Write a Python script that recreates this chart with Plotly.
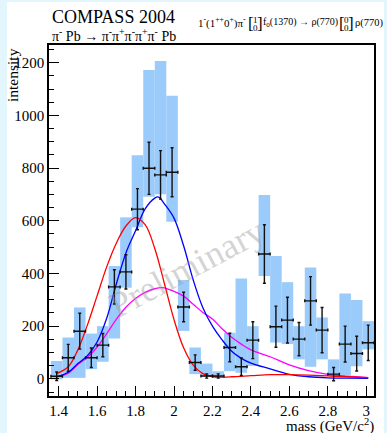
import plotly.graph_objects as go

# Bin centres of the 5-pion mass spectrum (GeV/c^2), bin width 60 MeV
mass = [1.39, 1.45, 1.51, 1.57, 1.63, 1.69, 1.75, 1.81, 1.87, 1.93,
        1.99, 2.05, 2.11, 2.17, 2.23, 2.29, 2.35, 2.41, 2.47, 2.53,
        2.59, 2.65, 2.71, 2.77, 2.83, 2.89, 2.95, 3.01]
bin_width = 0.06

# Partial-wave intensity with statistical errors
intensity = [10, 80, 181, 80, 128, 349, 406, 644, 799, 774,
             784, 273, 62, 11, 11, 119, 46, 147, 474, 198,
             223, 151, 296, 185, 18, 132, 96, 137]
stat_err = [16, 51, 68, 37, 44, 65, 65, 78, 99, 92,
            93, 56, 29, 8, 8, 54, 33, 70, 111, 78,
            87, 63, 92, 86, 25, 68, 66, 67]

# Systematic band (lower / upper edge per bin)
sys_low = [-2, 4, 4, 37, 65, 153, 346, 575, 691, 701,
           596, 182, 18, 8, 3, 29, 23, 49, 390, 138,
           132, 74, 46, 74, 13, 14, 48, 112]
sys_high = [68, 157, 271, 172, 200, 428, 613, 849, 1172, 1206,
            1074, 375, 119, 58, 29, 175, 381, 200, 698, 466,
            367, 200, 423, 233, 74, 324, 299, 219]

# Fit components sampled along the mass axis
red_m = [1.39, 1.45, 1.50, 1.55, 1.60, 1.65, 1.70, 1.75, 1.80, 1.85,
         1.90, 1.95, 2.00, 2.05, 2.10, 2.15, 2.20, 2.25, 2.30, 2.40,
         2.50, 2.60, 2.70, 2.80, 2.90, 3.01]
red_i = [20, 46, 110, 205, 315, 425, 515, 580, 612, 585,
         495, 362, 225, 118, 52, 20, 9, 7, 8, 12,
         16, 16, 14, 11, 8, 5]

blue_m = [1.39, 1.45, 1.50, 1.55, 1.60, 1.65, 1.70, 1.75, 1.80, 1.85,
          1.90, 1.92, 1.95, 2.00, 2.05, 2.10, 2.15, 2.20, 2.25, 2.30,
          2.35, 2.40, 2.50, 2.60, 2.70, 2.80, 2.90, 3.01]
blue_i = [8, 25, 58, 88, 140, 230, 360, 478, 562, 645,
          686, 690, 664, 610, 505, 375, 270, 200, 148, 105,
          78, 60, 38, 17, 8, 4, 3, 2]

mag_m = [1.39, 1.45, 1.50, 1.55, 1.60, 1.65, 1.70, 1.75, 1.80, 1.85,
         1.90, 1.94, 2.00, 2.05, 2.10, 2.15, 2.20, 2.25, 2.30, 2.35,
         2.40, 2.50, 2.60, 2.70, 2.80, 2.90, 3.01]
mag_i = [8, 22, 55, 82, 120, 172, 226, 272, 305, 328,
         342, 346, 332, 314, 283, 252, 227, 190, 158, 132,
         110, 84, 53, 31, 17, 10, 5]

x_range = [1.35, 3.04]
y_range = [-65, 1267]
y_ticks = [0, 200, 400, 600, 800, 1000, 1200]
x_ticks = [1.4, 1.6, 1.8, 2.0, 2.2, 2.4, 2.6, 2.8, 3.0]
x_tick_text = ["1.4", "1.6", "1.8", "2", "2.2", "2.4", "2.6", "2.8", "3"]

SERIF = "Liberation Serif, Times New Roman, serif"

fig = go.Figure()

# systematic boxes
fig.add_trace(go.Bar(
    x=mass,
    y=[h - l for h, l in zip(sys_high, sys_low)],
    base=sys_low,
    width=bin_width,
    marker=dict(color="#9acbfb", line=dict(width=0)),
    hoverinfo="skip",
    showlegend=False,
))

# fit components
for xs, ys, col in [(mag_m, mag_i, "#ff00ff"),
                    (blue_m, blue_i, "#0000ff"),
                    (red_m, red_i, "#ff0000")]:
    fig.add_trace(go.Scatter(
        x=xs, y=ys, mode="lines",
        line=dict(color=col, width=1.3, shape="spline", smoothing=1.0),
        showlegend=False, hoverinfo="skip",
    ))

# data points with statistical errors
fig.add_trace(go.Scatter(
    x=mass, y=intensity, mode="markers",
    marker=dict(size=1, color="black"),
    error_y=dict(type="data", array=stat_err, color="#111111",
                 thickness=1.4, width=1.5),
    error_x=dict(type="constant", value=bin_width / 2, color="#111111",
                 thickness=1.4, width=1.5),
    showlegend=False,
))

W, H = 387, 433
ml, mr, mt, mb = 49, 13, 45, 37
pw, ph = W - ml - mr, H - mt - mb


def px_x(px):
    return (px - ml) / pw


def px_y(py):
    return (H - mb - py) / ph


axis_common = dict(
    showline=True, linecolor="black", linewidth=1.6, mirror=True,
    ticks="inside", ticklen=10, tickwidth=1.3, tickcolor="black",
    showgrid=False, zeroline=False,
    tickfont=dict(family=SERIF, size=15, color="black"),
)

fig.update_xaxes(range=x_range, tickvals=x_ticks, ticktext=x_tick_text,
                 minor=dict(dtick=0.05, tick0=1.4, ticks="inside", ticklen=5,
                            tickwidth=1.1, tickcolor="black"),
                 **axis_common)
fig.update_yaxes(range=y_range, tickvals=y_ticks,
                 minor=dict(dtick=50, tick0=0, ticks="inside", ticklen=5,
                            tickwidth=1.1, tickcolor="black"),
                 **axis_common)


def label(text, x, y, size, xanchor="left", **kw):
    return dict(text=text, x=px_x(x), y=px_y(y), xanchor=xanchor,
                yanchor=kw.pop("yanchor", "middle"),
                font=dict(family=SERIF, size=size, color=kw.pop("color", "black")),
                **kw)


annotations = [
    label("COMPASS 2004", 50, 17, 18),
    label("π<sup>-</sup> Pb → π<sup>-</sup>π<sup>+</sup>π<sup>-</sup>π<sup>+</sup>π<sup>-</sup> Pb",
          50, 35, 14),
    # wave label: 1-(1++0+)pi- [1 0] f0(1370) -> rho(770) [0 0] rho(770)
    label("1<sup>-</sup>(1<sup>++</sup>0<sup>+</sup>)π<sup>-</sup>", 248, 23, 11, xanchor="right"),
    label("[", 251, 24, 17, xanchor="center"),
    label("1", 255.5, 20, 9, xanchor="center"),
    label("0", 255.5, 28, 9, xanchor="center"),
    label("]", 260, 24, 17, xanchor="center"),
    label("f<sub>0</sub>(1370) → ρ(770)", 261, 23, 10),
    label("[", 342, 24, 17, xanchor="center"),
    label("0", 346.5, 20, 9, xanchor="center"),
    label("0", 346.5, 28, 9, xanchor="center"),
    label("]", 351, 24, 17, xanchor="center"),
    label("ρ(770)", 353, 23, 10.5),
    # axis titles
    label("intensity", 13, 46, 15.5, xanchor="center", yanchor="top", textangle=-90),
    label("mass (GeV/c<sup>2</sup>)", 376, 425, 15, xanchor="right"),
    # watermark
    label("Preliminary", 187, 268, 36, xanchor="center", textangle=-28,
          color="rgba(150,150,150,0.42)"),
]
for a in annotations:
    a.update(xref="paper", yref="paper", showarrow=False)

fig.update_layout(
    width=W, height=H,
    margin=dict(l=ml, r=mr, t=mt, b=mb, pad=0),
    paper_bgcolor="#e3f5fd",
    plot_bgcolor="white",
    barmode="overlay",
    annotations=annotations,
    shapes=[dict(type="rect", xref="paper", yref="paper",
                 x0=px_x(7), x1=px_x(384), y0=px_y(436), y1=px_y(2),
                 fillcolor="white", line=dict(width=0), layer="below")],
)

fig.write_html("out.html")
